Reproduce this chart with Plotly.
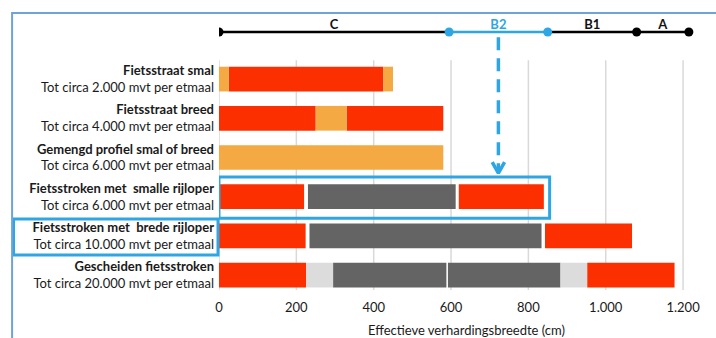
import plotly.graph_objects as go

# ---------------- data ----------------
row_titles = ["Fietsstraat smal", "Fietsstraat breed", "Gemengd profiel smal of breed",
              "Fietsstroken met  smalle rijloper", "Fietsstroken met  brede rijloper",
              "Gescheiden fietsstroken"]
row_subtitles = ["Tot circa 2.000 mvt per etmaal", "Tot circa 4.000 mvt per etmaal",
                 "Tot circa 6.000 mvt per etmaal", "Tot circa 6.000 mvt per etmaal",
                 "Tot circa 10.000 mvt per etmaal", "Tot circa 20.000 mvt per etmaal"]

# segments: row index, start (cm), end (cm), type
seg_row   = [0, 0, 0,   1, 1, 1,   2,   3, 3, 3,   4, 4, 4,   5, 5, 5, 5, 5, 5]
seg_start = [0, 25, 425, 0, 250, 330, 0, 0, 230, 620, 0, 234, 843, 0, 225, 295, 592, 883, 952]
seg_end   = [25, 425, 450, 250, 330, 580, 580, 220, 612, 840, 224, 834, 1068, 225, 295, 588, 883, 952, 1178]
seg_type  = ["menged", "fiets", "menged", "fiets", "menged", "fiets", "menged",
             "fiets", "rij", "fiets", "fiets", "rij", "fiets",
             "fiets", "strook", "rij", "rij", "strook", "fiets"]

class_labels = ["C", "B2", "B1", "A"]
class_bounds = [0, 595, 850, 1080, 1215]

x_ticks = [0, 200, 400, 600, 800, 1000, 1200]
x_ticktext = ["0", "200", "400", "600", "800", "1.000", "1.200"]

# ---------------- styling ----------------
colors = {"fiets": "#fb2f00", "menged": "#f4a942", "rij": "#646464", "strook": "#dcdcdc"}
BLUE = "#2ea6e3"
FONT = "Lato"

fig = go.Figure()

cats = [f"<b>{t}</b><br>{s}" for t, s in zip(row_titles, row_subtitles)]

for kind in ["fiets", "menged", "rij", "strook"]:
    idx = [i for i, t in enumerate(seg_type) if t == kind]
    fig.add_trace(go.Bar(
        orientation="h",
        y=[cats[seg_row[i]] for i in idx],
        base=[seg_start[i] for i in idx],
        x=[seg_end[i] - seg_start[i] for i in idx],
        width=0.63,
        marker=dict(color=colors[kind], line=dict(width=0)),
        showlegend=False, hoverinfo="skip",
    ))

# top class scale
LINE_Y = -1.2
seg_colors = ["black", BLUE, "black", "black"]
for i in range(len(class_labels)):
    fig.add_trace(go.Scatter(
        x=[class_bounds[i], class_bounds[i + 1]], y=[LINE_Y, LINE_Y], yaxis="y2",
        mode="lines", line=dict(color=seg_colors[i], width=2.5),
        showlegend=False, hoverinfo="skip"))
dot_colors = ["black", BLUE, BLUE, "black", "black"]
fig.add_trace(go.Scatter(
    x=class_bounds, y=[LINE_Y] * len(class_bounds), yaxis="y2", mode="markers",
    marker=dict(color=dot_colors, size=9), showlegend=False, hoverinfo="skip"))
mids = [(class_bounds[i] + class_bounds[i + 1]) / 2 for i in range(len(class_labels))]
label_colors = ["#111", BLUE, "#111", "#111"]
fig.add_trace(go.Scatter(
    x=mids, y=[-1.36] * len(mids), yaxis="y2", mode="text",
    text=[f"<b>{l}</b>" for l in class_labels],
    textfont=dict(family=FONT, size=13, color=label_colors),
    showlegend=False, hoverinfo="skip"))

# dashed arrow from B2
b2x = mids[1]
fig.add_trace(go.Scatter(
    x=[b2x, b2x], y=[-1.07, 2.36], yaxis="y2", mode="lines",
    line=dict(color=BLUE, width=3.5, dash="13px,8px"),
    showlegend=False, hoverinfo="skip"))
fig.add_trace(go.Scatter(
    x=[b2x - 16, b2x, b2x + 16], y=[2.12, 2.4, 2.12], yaxis="y2", mode="lines",
    line=dict(color=BLUE, width=3.5), showlegend=False, hoverinfo="skip"))

shapes = []
# gridlines
for v in x_ticks:
    shapes.append(dict(type="line", xref="x", yref="y2", x0=v, x1=v, y0=-0.48, y1=5.45,
                       line=dict(color="#d9d9d9", width=1.5), layer="below"))
# highlight boxes
shapes.append(dict(type="rect", xref="x", yref="y2", x0=0, x1=855, y0=2.5, y1=3.55,
                   line=dict(color=BLUE, width=3)))
shapes.append(dict(type="rect", xref="paper", yref="y2", x0=-0.415, x1=-0.002, y0=3.57, y1=4.49,
                   line=dict(color=BLUE, width=3)))
# outer frame
shapes.append(dict(type="path", xref="paper", yref="paper",
                   path="M -0.418,-0.3 L -0.418,1.0036 L 1.02,1.0036",
                   line=dict(color="#6fa3d8", width=2)))

RANGE_Y = [5.38, -1.66]
fig.update_layout(
    width=716, height=338,
    margin=dict(l=219, r=2, t=14, b=48),
    paper_bgcolor="white", plot_bgcolor="white",
    barmode="overlay",
    font=dict(family=FONT, size=13, color="#1a1a1a"),
    shapes=shapes,
    xaxis=dict(range=[0, 1280], tickvals=x_ticks, ticktext=x_ticktext, showgrid=False,
               zeroline=False, showline=False, ticks="", ticklabelstandoff=8,
               automargin=False,
               tickfont=dict(family=FONT, size=13, color="#1a1a1a"),
               title=dict(text="Effectieve verhardingsbreedte (cm)", standoff=20,
                          font=dict(family=FONT, size=13, color="#1a1a1a"))),
    yaxis=dict(type="category", categoryorder="array", categoryarray=cats,
               range=RANGE_Y, showgrid=False, zeroline=False, ticks="",
               ticklabelstandoff=4, automargin=False,
               tickfont=dict(family=FONT, size=13, color="#1a1a1a")),
    yaxis2=dict(overlaying="y", range=RANGE_Y, visible=False, showgrid=False),
)

fig.write_html("out.html", config={"displayModeBar": False},
               post_script="document.body.style.margin='0';document.body.style.overflow='hidden';")
